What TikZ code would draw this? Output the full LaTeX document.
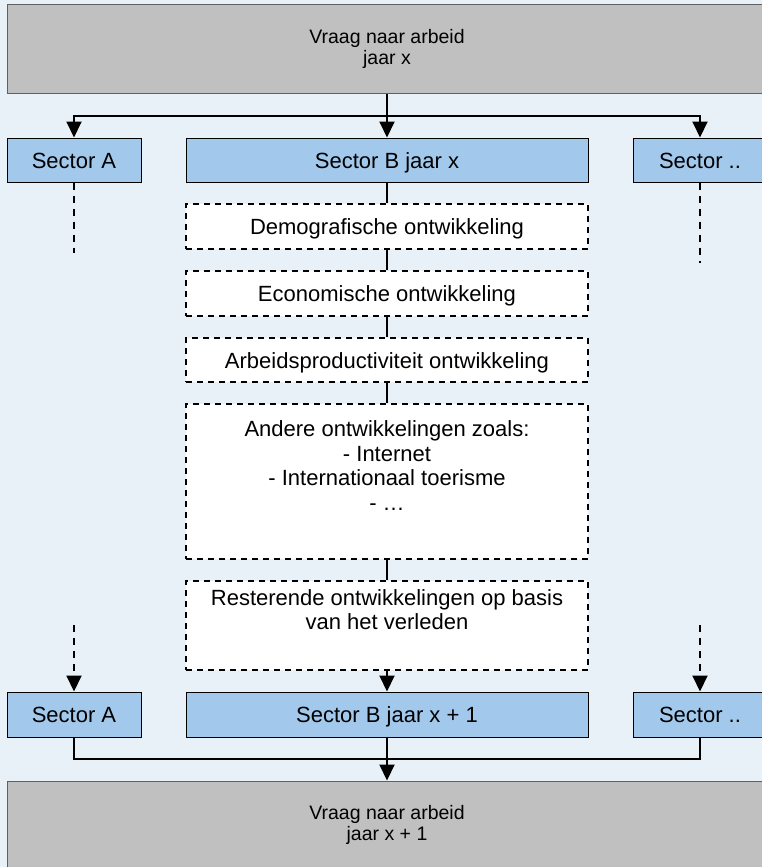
\documentclass[tikz,border=0pt]{standalone}
\usepackage{fontspec}
\setmainfont{Liberation Sans}
\usetikzlibrary{arrows.meta}
\definecolor{bgblue}{HTML}{E8F0F8}
\definecolor{boxgray}{HTML}{C0C0C0}
\definecolor{graybord}{HTML}{606060}
\definecolor{secblue}{HTML}{A2C9EC}
\tikzset{
  graybox/.style={draw=graybord, line width=1pt, fill=boxgray, minimum width=760pt, minimum height=88pt, inner sep=0pt, align=center, font=\fontsize{19.5}{21}\selectfont},
  secbox/.style={draw=black, line width=1pt, fill=secblue, minimum height=44pt, inner sep=0pt, text height=16pt, text depth=0pt, font=\fontsize{22}{24.5}\selectfont},
  devbox/.style={draw=black, line width=1.5pt, dash pattern=on 6pt off 5pt, fill=white, minimum width=402pt, inner sep=0pt, align=center, font=\fontsize{22}{24.5}\selectfont},
  oneline/.style={align=flush center, text height=16pt, text depth=0pt},
  conn/.style={line width=2pt},
  arr/.style={line width=2pt, -{Triangle[length=16pt,width=15pt]}},
  dashconn/.style={line width=2pt, dash pattern=on 7pt off 6pt},
}
\begin{document}
\begin{tikzpicture}[x=1pt,y=-1pt]
\useasboundingbox (0,0) rectangle (762,867);
\clip (0,0) rectangle (762,867);
\fill[bgblue] (0,0) rectangle (762,867);
% top
\node[graybox] (top) at (387,49) {Vraag naar arbeid\\jaar x};
\node[secbox, minimum width=134pt] (sa1) at (74,160) {Sector A};
\node[secbox, minimum width=402pt] (sb1) at (387,160) {Sector B jaar x};
\node[secbox, minimum width=134pt] (sc1) at (700,160) {Sector ..};
% development boxes
\node[devbox, oneline, minimum height=45pt] (d1) at (387,226.5) {Demografische ontwikkeling};
\node[devbox, oneline, minimum height=45pt] (d2) at (387,293.5) {Economische ontwikkeling};
\node[devbox, oneline, minimum height=44pt] (d3) at (387,360) {Arbeidsproductiviteit ontwikkeling};
\node[devbox, minimum height=155pt] (d4) at (387,481.5) {Andere ontwikkelingen zoals:\\- Internet\\- Internationaal toerisme\\- …\\\strut};
\node[devbox, minimum height=89pt] (d5) at (387,625.5) {Resterende ontwikkelingen op basis\\van het verleden\\\strut};
% bottom
\node[secbox, minimum width=134pt, minimum height=45pt] (sa2) at (74,714.5) {Sector A};
\node[secbox, minimum width=402pt, minimum height=45pt] (sb2) at (387,714.5) {Sector B jaar x + 1};
\node[secbox, minimum width=134pt, minimum height=45pt] (sc2) at (700,714.5) {Sector ..};
\node[graybox] (bot) at (387,825) {Vraag naar arbeid\\jaar x + 1};
% coordinates
\coordinate (tsplit) at (387,116);
\coordinate (bjoin) at (387,759);
\coordinate (aend) at (74,253);
\coordinate (cend) at (700,263);
\coordinate (astart) at (74,625);
\coordinate (cstart) at (700,625);
% top connectors
\draw[arr] (top.south) -- (sb1.north);
\draw[arr] (tsplit) -| (sa1.north);
\draw[arr] (tsplit) -| (sc1.north);
\draw[dashconn] (sa1.south) -- (aend);
\draw[dashconn] (sc1.south) -- (cend);
% middle chain
\draw[conn] (sb1.south) -- (d1.north);
\draw[conn] (d1.south) -- (d2.north);
\draw[conn] (d2.south) -- (d3.north);
\draw[conn] (d3.south) -- (d4.north);
\draw[conn] (d4.south) -- (d5.north);
\draw[arr] (d5.south) -- (sb2.north);
% bottom connectors
\draw[arr, dash pattern=on 7pt off 6pt] (astart) -- (sa2.north);
\draw[arr, dash pattern=on 7pt off 6pt] (cstart) -- (sc2.north);
\draw[arr] (sb2.south) -- (bot.north);
\draw[conn] (sa2.south) |- (bjoin);
\draw[conn] (sc2.south) |- (bjoin);
\end{tikzpicture}
\end{document}
